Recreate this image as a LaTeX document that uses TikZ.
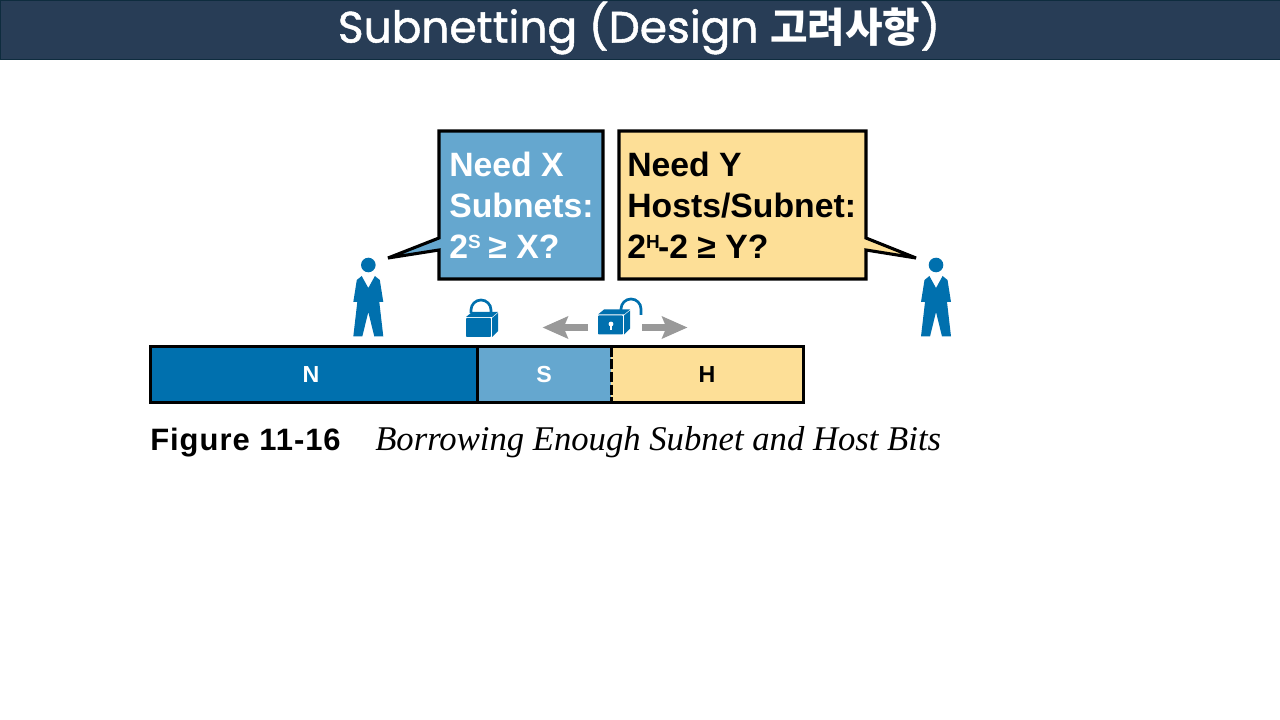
\documentclass[tikz,border=0pt]{standalone}
\usepackage{fontspec}
\setmainfont{Liberation Sans}
\newfontfamily\titlefont[FakeBold=1.2]{Poppins}
\newfontfamily\cjk{Noto Sans CJK KR}
\newfontfamily\captionfont{Liberation Serif}
\usetikzlibrary{arrows.meta, positioning, calc}
\definecolor{band-navy}{RGB}{40, 61, 86}
\definecolor{band-edge}{RGB}{14, 44, 62}
\definecolor{cisco-blue}{RGB}{0, 112, 174}
\definecolor{sub-blue}{RGB}{101, 167, 207}
\definecolor{host-yellow}{RGB}{253, 223, 151}
\definecolor{arrow-gray}{RGB}{153, 153, 153}
\newcommand{\supbit}[1]{\raisebox{7pt}{\fontsize{13.5}{14}\selectfont #1}\hspace{-1.2pt}}
\tikzset{
  person/.pic={
    \fill[cisco-blue] (0,-73) circle (7.3);
    \fill[cisco-blue] (-6.6,-62) -- (0,-50) -- (6.6,-62) -- (11.5,-58) -- (15,-36) -- (11,-36)
      -- (15,-1.5) -- (6,-1.5) -- (0,-26) -- (-6,-1.5) -- (-15,-1.5) -- (-11,-36) -- (-15,-36)
      -- (-11.5,-58) -- cycle;
  },
  lockbody/.pic={
    \fill[cisco-blue, rounded corners=0.6] (-13,-9.5) rectangle (12,9.5);
    \fill[cisco-blue] (-13,-10.5) -- (-7,-15.5) -- (19,-15.5) -- (13,-10.5) -- cycle;
    \fill[cisco-blue] (13,-9.5) -- (19,-14.5) -- (19,3.5) -- (13,9.5) -- cycle;
    \draw[white, line width=0.5pt] (12.5,-10) -- (12.5,9.5);
  }
}
\begin{document}
\begin{tikzpicture}[x=0.025cm,y=-0.025cm,
  bubble/.style={draw=black,line width=2.2pt,miter limit=3},
  needtext/.style={anchor=west,align=left,inner sep=0pt,font=\fontsize{24}{29}\selectfont\bfseries},
  seg/.style={minimum height=55*0.711pt,inner sep=0pt,font=\fontsize{16.5}{18}\selectfont\bfseries},
  arrow/.style={-{Stealth[length=18pt,width=15.5pt,inset=3pt]},draw=arrow-gray,line width=4.8pt},
  shackle/.style={draw=cisco-blue,line width=1.9pt}
]
  \useasboundingbox (0,0) rectangle (1280,720);
  \fill[white] (0,0) rectangle (1280,720);

  \node[draw=band-edge,fill=band-navy,line width=0.8pt,minimum width=1280*0.7113pt,minimum height=59*0.7113pt,inner sep=0pt,anchor=north west] (band) at (0,0) {};
  \node[text=white,inner sep=0pt] (title) at (639,28) {\fontsize{31.2}{38}\selectfont\titlefont Subnetting (Design {\fontsize{29}{38}\selectfont\cjk\bfseries 고려사항})};

  \draw[bubble,fill=sub-blue] (439,131) -- (603,131) -- (603,279) -- (439,279) -- (439,250) -- (388,258) -- (439,238) -- cycle;
  \draw[bubble,fill=host-yellow] (619,131) -- (866,131) -- (866,238) -- (916,258) -- (866,250) -- (866,279) -- (619,279) -- cycle;
  \node[needtext,text=white] (needx) at (449,205) {Need X\\Subnets:\\2\supbit{S} ≥ X?};
  \node[needtext,text=black] (needy) at (627,205) {Need Y\\Hosts/Subnet:\\2\supbit{H}-2 ≥ Y?};

  \pic at (368.3,338) {person};
  \pic at (936,338) {person};

  \pic at (479,327.5) {lockbody};
  \draw[shackle] (471,313) -- (471,310) arc[start angle=180,end angle=360,radius=10] -- (491,313);
  \pic at (611,325) {lockbody};
  \fill[white] (611,324) circle (2.4);
  \fill[white] (610,325) rectangle (612,330);
  \draw[shackle] (621,311) -- (621,309) arc[start angle=180,end angle=360,radius=10] -- (641,315);

  \coordinate (leftstart) at (588,327.5);
  \coordinate (lefttip) at (542.5,327.5);
  \coordinate (rightstart) at (642,327.5);
  \coordinate (righttip) at (687.5,327.5);
  \draw[arrow] (leftstart) -- (lefttip);
  \draw[arrow] (rightstart) -- (righttip);

  \node[seg,fill=cisco-blue,text=white,minimum width=326*0.7113pt] (netpart) at (314,374.5) {};
  \node[seg,fill=sub-blue,text=white,minimum width=134*0.7113pt] (subpart) at (544,374.5) {};
  \node[seg,fill=host-yellow,text=black,minimum width=192*0.7113pt] (hostpart) at (707,374.5) {};
  \node[seg,text=white] (netlabel) at (311,375) {N};
  \node[seg,text=white] (sublabel) at (544,375) {S};
  \node[seg,text=black] (hostlabel) at (707,375) {H};
  \draw[line width=2.2pt] (netpart.north west) rectangle (hostpart.south east);
  \draw[line width=2.2pt] (netpart.north east) -- (netpart.south east);
  \draw[line width=2.2pt,dash pattern=on 7pt off 2pt] (subpart.north east) -- (subpart.south east);

  \node[anchor=base west,inner sep=0pt,font=\fontsize{22}{24}\selectfont\bfseries\addfontfeature{LetterSpace=3.2}] (figno) at (150,450) {Figure 11-16};
  \node[anchor=base west,inner sep=0pt,font=\fontsize{24.65}{24}\selectfont\captionfont\itshape] (figtitle) at (375,450) {Borrowing Enough Subnet and Host Bits};
\end{tikzpicture}
\end{document}
